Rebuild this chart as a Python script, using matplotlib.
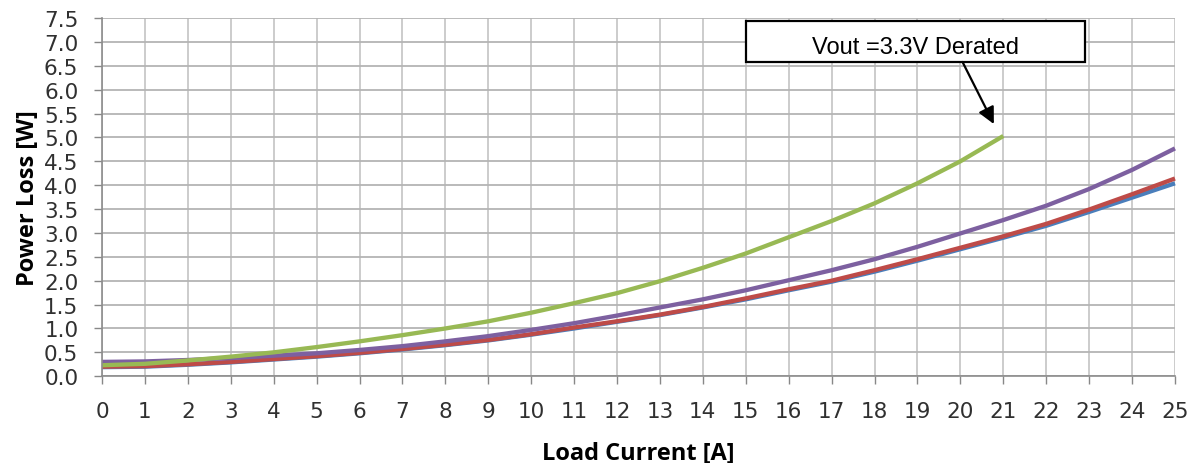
import matplotlib
matplotlib.use("Agg")
import matplotlib.pyplot as plt
from matplotlib.patches import Rectangle

# ---- data ----
load_current = list(range(0, 26))
green_current = list(range(0, 22))

blue_loss = [0.19, 0.20, 0.24, 0.29, 0.35, 0.41, 0.48, 0.56, 0.65, 0.75, 0.87, 1.00,
             1.14, 1.28, 1.44, 1.61, 1.80, 1.98, 2.19, 2.42, 2.66, 2.90, 3.15, 3.44,
             3.74, 4.04]
red_loss = [0.20, 0.21, 0.25, 0.30, 0.36, 0.42, 0.49, 0.57, 0.66, 0.76, 0.88, 1.02,
            1.15, 1.29, 1.45, 1.63, 1.82, 2.00, 2.22, 2.45, 2.69, 2.93, 3.19, 3.49,
            3.81, 4.14]
purple_loss = [0.30, 0.31, 0.34, 0.38, 0.43, 0.48, 0.55, 0.63, 0.73, 0.84, 0.97, 1.11,
               1.27, 1.44, 1.61, 1.80, 2.01, 2.22, 2.45, 2.71, 2.99, 3.27, 3.57, 3.92,
               4.32, 4.77]
green_loss = [0.23, 0.26, 0.33, 0.41, 0.50, 0.61, 0.73, 0.86, 1.00, 1.15, 1.33, 1.53,
              1.74, 1.99, 2.27, 2.57, 2.91, 3.25, 3.62, 4.04, 4.50, 5.03]

x_ticks = list(range(0, 26))
y_ticks = [0.0, 0.5, 1.0, 1.5, 2.0, 2.5, 3.0, 3.5, 4.0, 4.5, 5.0, 5.5, 6.0, 6.5, 7.0, 7.5]
annotation_text = "Vout =3.3V Derated"

# ---- figure ----
fig = plt.figure(figsize=(11.97, 4.64), dpi=100)
ax = fig.add_axes([0.0852, 0.187, 0.8964, 0.772])

tick_font = "DejaVu Sans"
label_font = "Open Sans"
ax.set_xlim(0, 25)
ax.set_ylim(0, 7.5)
ax.set_xticks(x_ticks)
ax.set_yticks(y_ticks)
ax.set_xticklabels([str(v) for v in x_ticks], fontsize=15.5, family=tick_font, color="#303030")
ax.set_yticklabels([f"{v:.1f}" for v in y_ticks], fontsize=15.5, family=tick_font, color="#303030")
ax.tick_params(axis="x", direction="out", length=6, width=1, color="#888888", pad=12)
ax.tick_params(axis="y", direction="out", length=6, width=1, color="#888888", pad=11)

ax.xaxis.grid(True, color="#c8c8c8", linewidth=1.3)
ax.yaxis.grid(True, color="#b4b4b4", linewidth=1.3)
ax.set_axisbelow(True)
for side in ("top", "right"):
    ax.spines[side].set_visible(False)
ax.spines["left"].set_color("#8c8c8c")
ax.spines["bottom"].set_color("#8c8c8c")
ax.spines["left"].set_linewidth(1.2)
ax.spines["bottom"].set_linewidth(1.2)

lw = 3.1
ax.plot(load_current, blue_loss, color="#4A7EBB", linewidth=lw, solid_capstyle="butt", clip_on=False)
ax.plot(load_current, red_loss, color="#BE4B48", linewidth=lw, solid_capstyle="butt", clip_on=False)
ax.plot(load_current, purple_loss, color="#7D60A0", linewidth=lw, solid_capstyle="butt", clip_on=False)
ax.plot(green_current, green_loss, color="#98B954", linewidth=lw, solid_capstyle="butt", clip_on=False)

ax.set_xlabel("Load Current [A]", fontsize=17, fontweight="bold", family=label_font, labelpad=14)
ax.set_ylabel("Power Loss [W]", fontsize=17, fontweight="bold", family=label_font, labelpad=3)

# annotation box with arrow
rect = Rectangle((15.0, 6.58), 7.9, 0.85, facecolor="white", edgecolor="black",
                 linewidth=1.6, zorder=5)
ax.add_patch(rect)
t = ax.text(18.95, 6.76, annotation_text, ha="center", va="baseline",
            fontsize=17, family="Liberation Sans", zorder=6)
t.set_clip_path(rect)
ax.annotate("", xy=(20.78, 5.28), xytext=(20.05, 6.58),
            arrowprops=dict(arrowstyle="-|>,head_length=1.0,head_width=0.5",
                            color="black", linewidth=1.6, shrinkA=0, shrinkB=0),
            zorder=6)

fig.savefig("out.png", dpi=100)
